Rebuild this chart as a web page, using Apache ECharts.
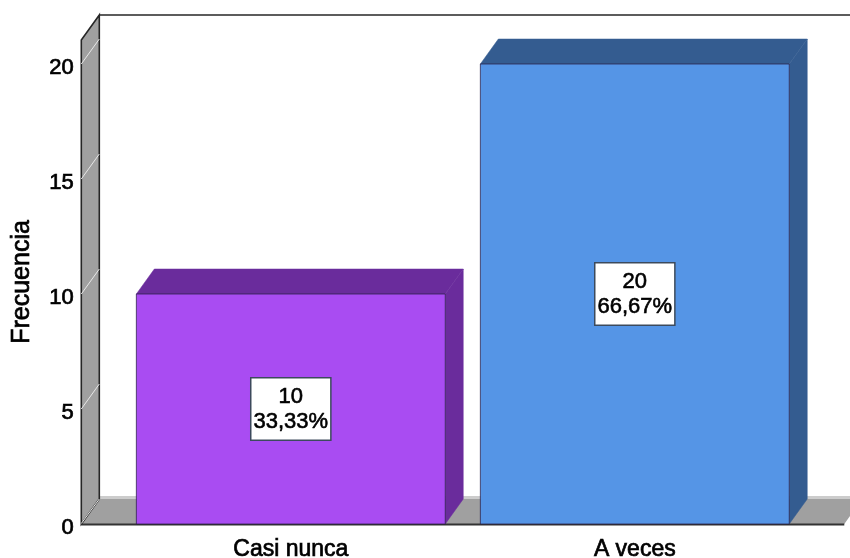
<!DOCTYPE html>
<html><head><meta charset="utf-8">
<style>html,body{margin:0;padding:0;background:#fff}#c{width:850px;height:558px}</style>
<script src="https://cdn.jsdelivr.net/npm/echarts@6/dist/echarts.min.js"></script>
</head><body><div id="c"></div>
<script>
var categories = ['Casi nunca', 'A veces'];
var frequencies = [10, 20];
var percentLabels = ['33,33%', '66,67%'];
var yTicks = [0, 5, 10, 15, 20];
var barFronts = ['#a94cf2', '#5595e6'];
var barDarks = ['#6a2c9c', '#345c90'];
var DX = 18, DY = 25, WALL = 37.5;
var font = '"Liberation Sans", Arial, sans-serif';

var chart = echarts.init(document.getElementById('c'), null, {renderer: 'canvas'});

function poly(points, fill, stroke, w) {
  return {type: 'polygon', shape: {points: points},
    style: {fill: fill, stroke: stroke || null, lineWidth: w || 0}};
}
function seg(x1, y1, x2, y2, color, w) {
  return {type: 'line', shape: {x1: x1, y1: y1, x2: x2, y2: y2},
    style: {stroke: color, lineWidth: w, fill: null}};
}

function renderBackdrop(params, api) {
  var cs = params.coordSys;
  var fx = cs.x - WALL, y0 = api.coord([0, 0])[1], top = cs.y, frontR = cs.x + cs.width + WALL;
  var bx = fx + DX;
  var kids = [
    poly([[fx, y0], [bx, y0 - DY], [frontR + DX, y0 - DY], [frontR, y0]], '#a0a0a0'),
    seg(bx, y0 - DY - 1.5, frontR + DX, y0 - DY - 1.5, '#cccccc', 3),
    seg(fx, y0 + .5, frontR, y0 + .5, '#333333', 2),
    poly([[fx, y0], [fx, top], [bx, top - DY], [bx, y0 - DY]], '#a0a0a0', '#262626', 1.6),
    seg(bx, top - DY, frontR + DX, top - DY, '#262626', 1.6)
  ];
  yTicks.forEach(function (t) {
    var y = api.coord([0, t])[1];
    kids.push(seg(fx, y - (t === 0 ? .5 : 0), bx, y - DY, '#e8e8e8', 1));
  });
  return {type: 'group', children: kids};
}

function renderBar(params, api) {
  var i = params.dataIndex;
  var idx = api.value(0), v = api.value(1);
  var band = api.size([1, 0])[0];
  var w = band * 0.898;
  var p0 = api.coord([idx, 0]), p1 = api.coord([idx, v]);
  var l = p0[0] - w / 2, r = p0[0] + w / 2, t = p1[1], b = p0[1];
  return {type: 'group', children: [
    poly([[l, t], [l + DX, t - DY], [r + DX, t - DY], [r, t]], barDarks[i], barDarks[i], .5),
    poly([[r, t], [r + DX, t - DY], [r + DX, b - DY], [r, b]], barDarks[i], barDarks[i], .5),
    {type: 'rect', shape: {x: l, y: t, width: w, height: b - t},
      style: {fill: barFronts[i], stroke: 'rgba(40,30,70,0.75)', lineWidth: 1}},
    {type: 'text', x: p0[0], y: (t + b) / 2, z2: 10, style: {
      text: v + '\n' + percentLabels[i],
      x: 0, y: 0, align: 'center', verticalAlign: 'middle',
      font: '22px ' + font, lineHeight: 25, fill: '#000',
      stroke: '#000', lineWidth: .6,
      backgroundColor: '#fff', borderColor: '#3c4a5c', borderWidth: 1.5,
      padding: [7, 2, 4, 2]
    }}
  ]};
}

chart.setOption({
  animation: false,
  backgroundColor: '#fff',
  grid: {left: 118.8, width: 688, top: 40, height: 484, outerBoundsMode: 'none'},
  xAxis: {type: 'category', data: categories,
    axisLine: {show: false}, axisTick: {show: false}, splitLine: {show: false},
    axisLabel: {color: '#000', fontFamily: font, fontSize: 23, margin: 14,
      textBorderColor: '#000', textBorderWidth: .7}},
  yAxis: {type: 'value', min: 0, max: 484 / 23, interval: 5,
    name: 'Frecuencia', nameLocation: 'middle', nameGap: 84,
    nameTextStyle: {color: '#000', fontFamily: font, fontSize: 25,
      textBorderColor: '#000', textBorderWidth: .7},
    axisLine: {show: false}, axisTick: {show: false}, splitLine: {show: false},
    axisLabel: {color: '#000', fontFamily: font, fontSize: 22, margin: 45,
      textBorderColor: '#000', textBorderWidth: .7,
      showMaxLabel: false, verticalAlign: 'top', lineHeight: 8,
      formatter: function (v) { return yTicks.indexOf(v) >= 0 ? String(v) : ''; }}},
  series: [
    {type: 'custom', name: 'fondo', z: 1, silent: true, renderItem: renderBackdrop,
      data: [[0, 0]], encode: {x: 0, y: 1}},
    {type: 'custom', name: 'Frecuencia', z: 2, renderItem: renderBar,
      data: categories.map(function (c, i) { return [i, frequencies[i]]; }),
      encode: {x: 0, y: 1}}
  ]
});
</script></body></html>
